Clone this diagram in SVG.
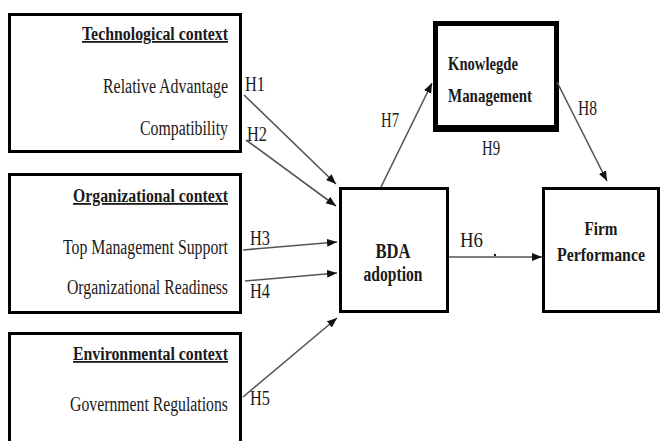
<svg xmlns="http://www.w3.org/2000/svg" width="661" height="441" viewBox="0 0 661 441">
<style>
.box{fill:#fff;stroke:#000;stroke-width:3}
.t{font-family:"Liberation Serif","Times New Roman",serif;font-size:20px;fill:#1a1a1a}
.b{font-weight:bold;font-size:18px}
.u{text-decoration:underline}
.h{font-family:"Liberation Serif","Times New Roman",serif;font-size:20px;fill:#1a1a1a}
.c{stroke:#555;stroke-width:1.6;fill:none;marker-end:url(#ah)}
</style>
<defs>
<marker id="ah" markerUnits="userSpaceOnUse" markerWidth="11" markerHeight="9" refX="10" refY="4" orient="auto">
<path d="M0,0 L10,4 L0,8 z" fill="#111"/>
</marker>
</defs>
<rect width="661" height="441" fill="#fff"/>

<g id="tech">
<rect class="box" x="9.5" y="14.5" width="231" height="137"/>
<text class="t b u" x="228" y="40" text-anchor="end" textLength="146" lengthAdjust="spacingAndGlyphs">Technological context</text>
<text class="t" x="228" y="93" text-anchor="end" textLength="125" lengthAdjust="spacingAndGlyphs">Relative Advantage</text>
<text class="t" x="228" y="135" text-anchor="end" textLength="88" lengthAdjust="spacingAndGlyphs">Compatibility</text>
</g>

<g id="org">
<rect class="box" x="9.5" y="174.5" width="231" height="138"/>
<text class="t b u" x="228" y="202" text-anchor="end" textLength="155" lengthAdjust="spacingAndGlyphs">Organizational context</text>
<text class="t" x="228" y="254" text-anchor="end" textLength="165" lengthAdjust="spacingAndGlyphs">Top Management Support</text>
<text class="t" x="228" y="294" text-anchor="end" textLength="161" lengthAdjust="spacingAndGlyphs">Organizational Readiness</text>
</g>

<g id="env">
<rect class="box" x="9.5" y="333.5" width="231" height="120"/>
<text class="t b u" x="228" y="360" text-anchor="end" textLength="155" lengthAdjust="spacingAndGlyphs">Environmental context</text>
<text class="t" x="228" y="411" text-anchor="end" textLength="158" lengthAdjust="spacingAndGlyphs">Government Regulations</text>
</g>

<g id="bda">
<rect class="box" x="340.5" y="188.5" width="107" height="123"/>
<text class="t b" x="393" y="258" text-anchor="middle" textLength="35" lengthAdjust="spacingAndGlyphs" style="font-size:20px">BDA</text>
<text class="t b" x="393" y="281" text-anchor="middle" textLength="59" lengthAdjust="spacingAndGlyphs" style="font-size:20px">adoption</text>
</g>

<g id="firm">
<rect class="box" x="543.5" y="188.5" width="115" height="123"/>
<text class="t b" x="601" y="235" text-anchor="middle" textLength="33" lengthAdjust="spacingAndGlyphs" style="font-size:19px">Firm</text>
<text class="t b" x="601" y="261" text-anchor="middle" textLength="88" lengthAdjust="spacingAndGlyphs" style="font-size:19px">Performance</text>
</g>

<g id="km">
<rect x="435.5" y="23.5" width="121" height="105" fill="#fff" stroke="#000" stroke-width="5"/>
<rect x="433" y="125" width="126" height="7" fill="#000"/>
<text class="t b" x="448" y="70" textLength="70" lengthAdjust="spacingAndGlyphs" style="font-size:19px">Knowlegde</text>
<text class="t b" x="448" y="102" textLength="84" lengthAdjust="spacingAndGlyphs" style="font-size:19px">Management</text>
</g>

<g id="connectors">
<line class="c" x1="244" y1="95" x2="336" y2="184"/>
<line class="c" x1="246" y1="140" x2="336" y2="206"/>
<line class="c" x1="243" y1="250" x2="337" y2="242"/>
<line class="c" x1="245" y1="281" x2="337" y2="273"/>
<line class="c" x1="243" y1="397" x2="337" y2="318"/>
<line class="c" x1="449" y1="257" x2="542" y2="257"/>
<line class="c" x1="381" y1="187" x2="432" y2="83"/>
<line class="c" x1="557" y1="82" x2="607" y2="181"/>
<circle cx="495" cy="255" r="1.2" fill="#111"/>
</g>

<g id="labels">
<text class="h" x="245" y="91" textLength="20" lengthAdjust="spacingAndGlyphs">H1</text>
<text class="h" x="247" y="141" textLength="20" lengthAdjust="spacingAndGlyphs">H2</text>
<text class="h" x="250" y="245" textLength="20" lengthAdjust="spacingAndGlyphs">H3</text>
<text class="h" x="250" y="298" textLength="20" lengthAdjust="spacingAndGlyphs">H4</text>
<text class="h" x="250" y="405" textLength="20" lengthAdjust="spacingAndGlyphs">H5</text>
<text class="h" x="460" y="247" textLength="23" lengthAdjust="spacingAndGlyphs">H6</text>
<text class="h" x="381" y="127" textLength="18" lengthAdjust="spacingAndGlyphs">H7</text>
<text class="h" x="578" y="115" textLength="19" lengthAdjust="spacingAndGlyphs">H8</text>
<text class="h" x="482" y="155" textLength="18" lengthAdjust="spacingAndGlyphs">H9</text>
</g>
</svg>
